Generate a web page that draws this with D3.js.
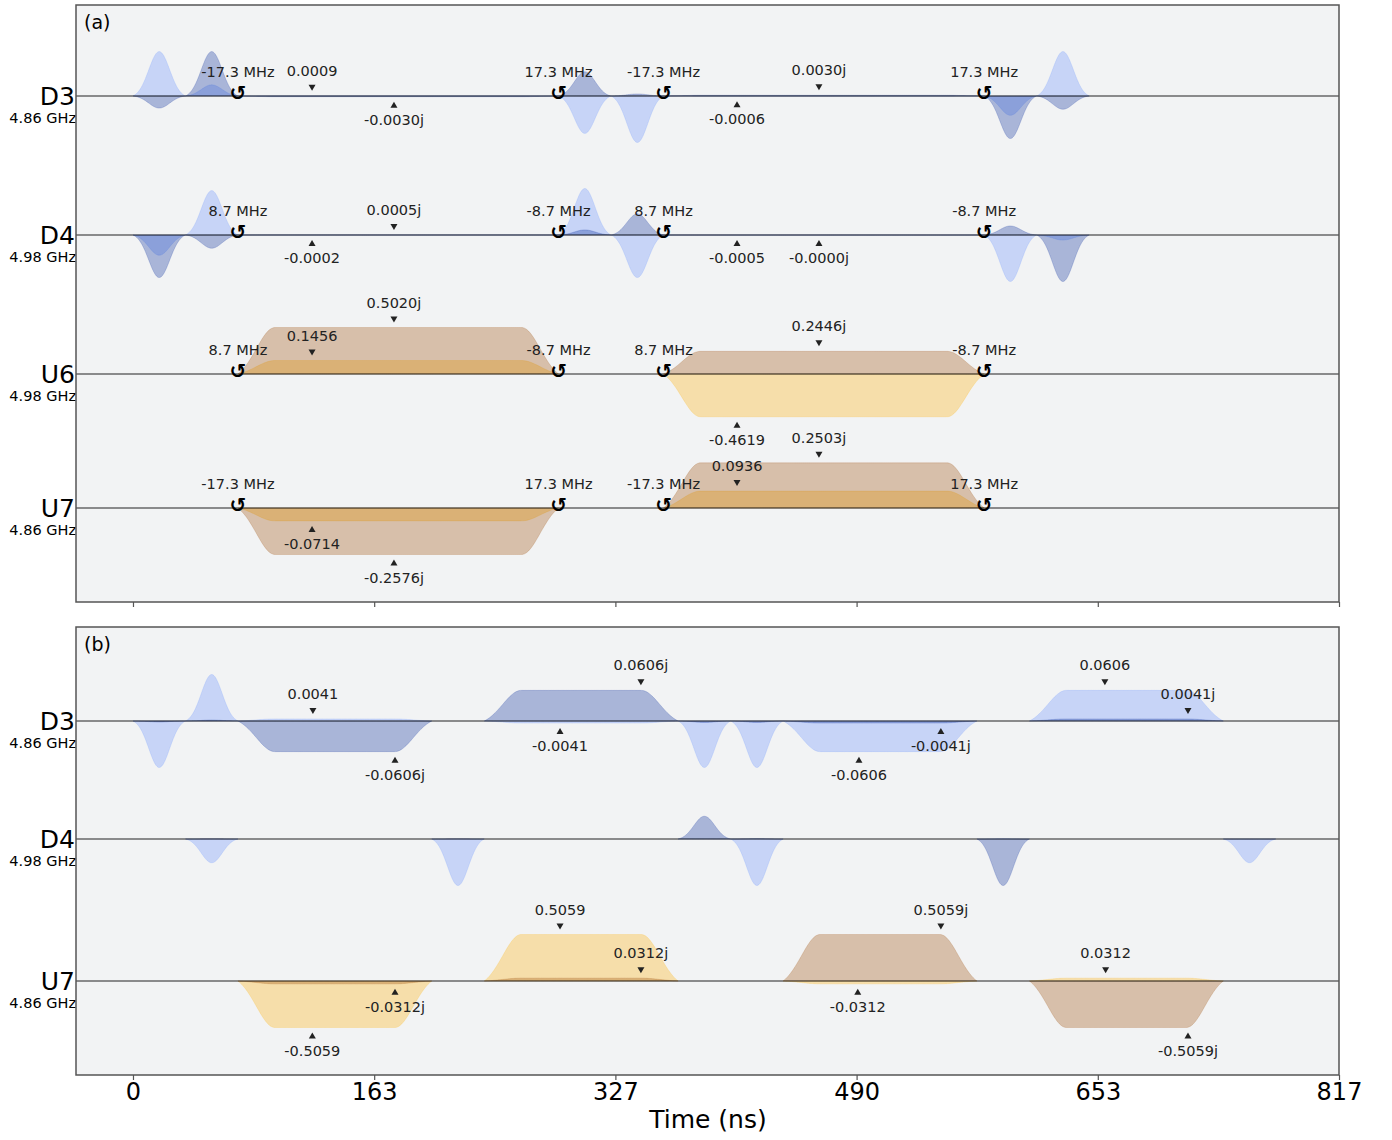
<!DOCTYPE html>
<html>
<head>
<meta charset="utf-8">
<script src="https://cdn.jsdelivr.net/npm/d3@7"></script>
<style>
  body { margin: 0; background: #fff; }
  svg text { font-family: "DejaVu Sans", sans-serif; }
</style>
</head>
<body>
<div id="chart"></div>
<script>
// time axis
const timeTicks = [0, 163.4, 326.8, 490.2, 653.6, 817];
const tickLabels = ["0", "163", "327", "490", "653", "817"];

// panel (a) channels
const chanA = ["D3", "D4", "U6", "U7"];
const freqA = ["4.86 GHz", "4.98 GHz", "4.98 GHz", "4.86 GHz"];
// [channel, shape, start ns, duration ns, real, imag]
const pulsesA = [
  ["D3", "gauss", 0, 35.56, 0.191, -0.052],
  ["D3", "gauss", 35.56, 35.56, 0.048, 0.191],
  ["D3", "gsq", 71.1, 217.2, 0.0009, -0.0030],
  ["D3", "gauss", 288.3, 35.56, -0.161, 0.104],
  ["D3", "gauss", 323.9, 35.56, -0.2, 0.009],
  ["D3", "gsq", 359.4, 217.2, -0.0006, 0.0030],
  ["D3", "gauss", 576.6, 35.56, -0.083, -0.183],
  ["D3", "gauss", 612.2, 35.56, 0.191, -0.057],
  ["D4", "gauss", 0, 35.56, -0.087, -0.183],
  ["D4", "gauss", 35.56, 35.56, 0.191, -0.057],
  ["D4", "gsq", 71.1, 217.2, -0.0002, 0.0005],
  ["D4", "gauss", 288.3, 35.56, 0.2, 0.022],
  ["D4", "gauss", 323.9, 35.56, -0.183, 0.091],
  ["D4", "gsq", 359.4, 217.2, -0.0005, -0.00001],
  ["D4", "gauss", 576.6, 35.56, -0.2, 0.039],
  ["D4", "gauss", 612.2, 35.56, -0.022, -0.2],
  ["U6", "gsq", 71.1, 217.2, 0.1456, 0.5020],
  ["U6", "gsq", 359.4, 217.2, -0.4619, 0.2446],
  ["U7", "gsq", 71.1, 217.2, -0.0714, -0.2576],
  ["U7", "gsq", 359.4, 217.2, 0.0936, 0.2503]
];
// [channel, time ns, label]
const framesA = [
  ["D3", 71.1, "-17.3 MHz"], ["D3", 288.3, "17.3 MHz"], ["D3", 359.4, "-17.3 MHz"], ["D3", 576.6, "17.3 MHz"],
  ["D4", 71.1, "8.7 MHz"], ["D4", 288.3, "-8.7 MHz"], ["D4", 359.4, "8.7 MHz"], ["D4", 576.6, "-8.7 MHz"],
  ["U6", 71.1, "8.7 MHz"], ["U6", 288.3, "-8.7 MHz"], ["U6", 359.4, "8.7 MHz"], ["U6", 576.6, "-8.7 MHz"],
  ["U7", 71.1, "-17.3 MHz"], ["U7", 288.3, "17.3 MHz"], ["U7", 359.4, "-17.3 MHz"], ["U7", 576.6, "17.3 MHz"]
];
// [channel, time ns, value, part]
const annotA = [
  ["D3", 121.3, 0.0009, "re"], ["D3", 176.8, -0.0030, "im"],
  ["D3", 409.2, -0.0006, "re"], ["D3", 464.7, 0.0030, "im"],
  ["D4", 121.3, -0.0002, "re"], ["D4", 176.8, 0.0005, "im"],
  ["D4", 409.2, -0.0005, "re"], ["D4", 464.7, -0.00001, "im"],
  ["U6", 121.3, 0.1456, "re"], ["U6", 176.8, 0.5020, "im"],
  ["U6", 409.2, -0.4619, "re"], ["U6", 464.7, 0.2446, "im"],
  ["U7", 121.3, -0.0714, "re"], ["U7", 176.8, -0.2576, "im"],
  ["U7", 409.2, 0.0936, "re"], ["U7", 464.7, 0.2503, "im"]
];

// panel (b) channels
const chanB = ["D3", "D4", "U7"];
const freqB = ["4.86 GHz", "4.98 GHz", "4.86 GHz"];
const pulsesB = [
  ["D3", "gauss", 0, 35.56, -0.092, -0.002],
  ["D3", "gauss", 35.56, 35.56, 0.092, 0.002],
  ["D3", "gsq", 71.1, 131.3, 0.0041, -0.0606],
  ["D3", "gsq", 238.0, 131.3, -0.0041, 0.0606],
  ["D3", "gauss", 369.3, 35.56, -0.092, -0.003],
  ["D3", "gauss", 404.9, 35.56, -0.092, -0.003],
  ["D3", "gsq", 440.4, 131.3, -0.0606, -0.0041],
  ["D3", "gsq", 607.3, 131.3, 0.0606, 0.0041],
  ["D4", "gauss", 35.56, 35.56, -0.097, 0.001],
  ["D4", "gauss", 202.4, 35.56, -0.19, 0.001],
  ["D4", "gauss", 369.3, 35.56, 0.0, 0.093],
  ["D4", "gauss", 404.9, 35.56, -0.19, 0.002],
  ["D4", "gauss", 571.7, 35.56, 0.002, -0.19],
  ["D4", "gauss", 738.6, 35.56, -0.097, 0.0],
  ["U7", "gsq", 71.1, 131.3, -0.5059, -0.0312],
  ["U7", "gsq", 238.0, 131.3, 0.5059, 0.0312],
  ["U7", "gsq", 440.4, 131.3, -0.0312, 0.5059],
  ["U7", "gsq", 607.3, 131.3, 0.0312, -0.5059]
];
const annotB = [
  ["D3", 121.9, 0.0041, "re"], ["D3", 177.5, -0.0606, "im"],
  ["D3", 289.3, -0.0041, "re"], ["D3", 344.1, 0.0606, "im"],
  ["D3", 491.8, -0.0606, "re"], ["D3", 547.3, -0.0041, "im"],
  ["D3", 658.4, 0.0606, "re"], ["D3", 714.7, 0.0041, "im"],
  ["U7", 121.5, -0.5059, "re"], ["U7", 177.5, -0.0312, "im"],
  ["U7", 289.3, 0.5059, "re"], ["U7", 344.1, 0.0312, "im"],
  ["U7", 491.0, -0.0312, "re"], ["U7", 547.3, 0.5059, "im"],
  ["U7", 658.9, 0.0312, "re"], ["U7", 714.7, -0.5059, "im"]
];

// layout
const W = 1392, H = 1140;
const left = 76, right = 1339;
const panels = [
  { tag: "(a)", top: 5, bottom: 602, chans: chanA, freqs: freqA, base: [96, 235, 374, 508],
    pulses: pulsesA, frames: framesA, annots: annotA, labels: false },
  { tag: "(b)", top: 627, bottom: 1075, chans: chanB, freqs: freqB, base: [721, 839, 981],
    pulses: pulsesB, frames: [], annots: annotB, labels: true }
];
const colors = {
  D: { re: "#648FFF", im: "#002999" },
  U: { re: "#FFB000", im: "#994A00" }
};
const halfH = 46.5;

const svg = d3.select("#chart").append("svg")
  .attr("width", W).attr("height", H);

const x = d3.scaleLinear().domain([-38.6, 817]).range([left, right]);

function liftedGauss(t, c, sigma, half) {
  const e0 = Math.exp(-(half * half) / (2 * sigma * sigma));
  return (Math.exp(-((t - c) * (t - c)) / (2 * sigma * sigma)) - e0) / (1 - e0);
}
function envelope(shape, t0, dur, t) {
  if (shape === "gauss") {
    return Math.max(0, liftedGauss(t, t0 + dur / 2, dur / 5, dur / 2));
  }
  const rise = 25;
  if (t < t0 + rise) return Math.max(0, liftedGauss(t, t0 + rise, rise / 2, rise));
  if (t > t0 + dur - rise) return Math.max(0, liftedGauss(t, t0 + dur - rise, rise / 2, rise));
  return 1;
}

panels.forEach(p => {
  const g = svg.append("g");
  g.append("rect")
    .attr("x", left).attr("y", p.top)
    .attr("width", right - left).attr("height", p.bottom - p.top)
    .attr("fill", "#f2f3f4");

  const clipId = "clip" + p.tag.replace(/\W/g, "");
  svg.append("clipPath").attr("id", clipId).append("rect")
    .attr("x", left).attr("y", p.top).attr("width", right - left).attr("height", p.bottom - p.top);
  const plot = g.append("g").attr("clip-path", `url(#${clipId})`);

  p.chans.forEach((ch, i) => {
    const base = p.base[i];
    const list = p.pulses.filter(d => d[0] === ch);
    const m = d3.max(list, d => Math.max(Math.abs(d[4]), Math.abs(d[5])));
    const y = d3.scaleLinear().domain([-m, m]).range([base + halfH, base - halfH]);
    const col = colors[ch[0]];

    ["re", "im"].forEach(part => {
      list.forEach(d => {
        const amp = part === "re" ? d[4] : d[5];
        const ts = d3.range(0, 161).map(k => d[2] + d[3] * k / 160);
        const area = d3.area()
          .x(t => x(t))
          .y0(y(0))
          .y1(t => y(amp * envelope(d[1], d[2], d[3], t)));
        plot.append("path")
          .datum(ts)
          .attr("d", area)
          .attr("fill", col[part])
          .attr("fill-opacity", 0.3)
          .attr("stroke", col[part])
          .attr("stroke-opacity", 0.3)
          .attr("stroke-width", 0.6);
      });
    });

    // baseline
    plot.append("line")
      .attr("x1", left).attr("x2", right)
      .attr("y1", base).attr("y2", base)
      .attr("stroke", "#222").attr("stroke-width", 1.1);

    // channel labels
    g.append("text")
      .attr("x", left - 1).attr("y", base + 9)
      .attr("text-anchor", "end")
      .style("font-size", "25px")
      .text(ch);
    g.append("text")
      .attr("x", left).attr("y", base + 27)
      .attr("text-anchor", "end")
      .style("font-size", "14.5px")
      .text(p.freqs[i]);

    // annotations
    p.annots.filter(a => a[0] === ch).forEach(a => {
      const v = a[2];
      const label = v.toFixed(4) + (a[3] === "im" ? "j" : "");
      const px = x(a[1]);
      const up = v >= 0;
      const my = up ? y(v) - 8 : y(v) + 8;
      plot.append("path")
        .attr("d", up ? "M-3.5,-3L3.5,-3L0,3Z" : "M-3.5,3L3.5,3L0,-3Z")
        .attr("transform", `translate(${px},${my})`)
        .attr("fill", "#222");
      plot.append("text")
        .attr("x", px).attr("y", up ? my - 12 : my + 20)
        .attr("text-anchor", "middle")
        .style("font-size", "14.5px")
        .style("fill", "#222")
        .text(label);
    });

    // frame changes
    p.frames.filter(f => f[0] === ch).forEach(f => {
      const px = x(f[1]);
      plot.append("text")
        .attr("x", px).attr("y", base + 4)
        .attr("text-anchor", "middle")
        .style("font-size", "20px")
        .style("font-weight", "bold")
        .text("\u21BA");
      plot.append("text")
        .attr("x", px).attr("y", base - 19)
        .attr("text-anchor", "middle")
        .style("font-size", "14.5px")
        .style("fill", "#222")
        .text(f[2]);
    });
  });

  g.append("text")
    .attr("x", 84).attr("y", p.top + 24)
    .style("font-size", "19px")
    .text(p.tag);

  // frame border
  g.append("rect")
    .attr("x", left).attr("y", p.top)
    .attr("width", right - left).attr("height", p.bottom - p.top)
    .attr("fill", "none").attr("stroke", "#555").attr("stroke-width", 1.5);

  // ticks
  const axis = d3.axisBottom(x)
    .tickValues(timeTicks)
    .tickSize(5)
    .tickFormat((d, i) => p.labels ? tickLabels[i] : "");
  const ax = g.append("g")
    .attr("transform", `translate(0,${p.bottom})`)
    .call(axis);
  ax.select(".domain").remove();
  ax.selectAll(".tick line").attr("stroke", "#555").attr("stroke-width", 1.2);
  ax.selectAll(".tick text")
    .attr("y", 8)
    .style("font-size", "24px")
    .style("font-family", "DejaVu Sans, sans-serif")
    .attr("fill", "#000");
});

svg.append("text")
  .attr("x", 708).attr("y", 1128)
  .attr("text-anchor", "middle")
  .style("font-size", "25px")
  .text("Time (ns)");
</script>
</body>
</html>
